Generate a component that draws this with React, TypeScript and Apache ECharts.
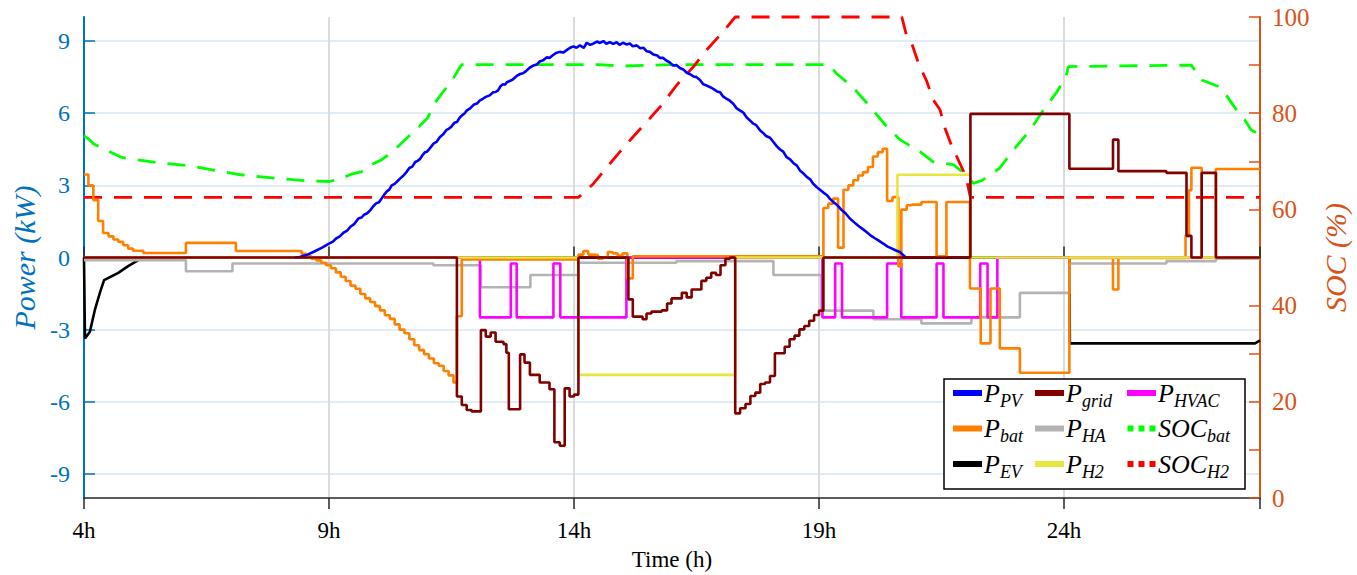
import React, { useEffect, useRef } from 'react';
import * as echarts from 'echarts';

// ---- ticks ----
const powerTicks = [-9, -6, -3, 0, 3, 6, 9];
const socLabels = [0, 20, 40, 60, 80, 100];
const timeLabels = [4, 9, 14, 19, 24];

// ---- series data: [hour, value] ----
const pPV: [number, number][] = [
  [8.3, 0], [8.4, 0.02], [8.54, 0.1], [8.7, 0.25], [8.85, 0.4], [9.0, 0.58], [9.08, 0.66], [9.15, 0.8], [9.22, 0.88],
  [9.29, 1.02], [9.37, 1.12], [9.45, 1.3], [9.52, 1.4], [9.6, 1.62], [9.66, 1.66], [9.72, 1.78], [9.78, 1.84],
  [9.84, 1.96], [9.9, 2.12], [9.96, 2.25], [10.02, 2.3], [10.08, 2.47], [10.13, 2.62], [10.18, 2.75], [10.23, 2.82],
  [10.28, 3.0], [10.34, 3.06], [10.4, 3.18], [10.46, 3.3], [10.52, 3.41], [10.58, 3.55], [10.64, 3.72], [10.7, 3.78],
  [10.76, 3.97], [10.81, 4.02], [10.86, 4.1], [10.91, 4.26], [10.96, 4.38], [11.0, 4.4], [11.05, 4.52], [11.09, 4.62],
  [11.13, 4.73], [11.2, 4.82], [11.26, 5.0], [11.33, 5.12], [11.4, 5.31], [11.45, 5.36], [11.5, 5.45], [11.56, 5.6],
  [11.61, 5.63], [11.67, 5.82], [11.72, 5.92], [11.77, 6.0], [11.81, 6.11], [11.88, 6.2], [11.95, 6.35], [12.02, 6.4],
  [12.08, 6.53], [12.14, 6.6], [12.2, 6.68], [12.28, 6.74], [12.35, 6.87], [12.4, 6.88], [12.45, 6.95], [12.5, 7.12],
  [12.55, 7.2], [12.59, 7.18], [12.63, 7.29], [12.69, 7.34], [12.75, 7.4], [12.83, 7.55], [12.9, 7.63], [12.96, 7.66],
  [13.02, 7.75], [13.1, 7.9], [13.17, 7.98], [13.24, 8.02], [13.3, 8.15], [13.37, 8.2], [13.44, 8.32], [13.5, 8.3],
  [13.56, 8.4], [13.63, 8.5], [13.71, 8.55], [13.78, 8.52], [13.85, 8.62], [13.92, 8.72], [13.99, 8.78], [14.05, 8.72],
  [14.12, 8.82], [14.2, 8.72], [14.26, 8.93], [14.33, 8.84], [14.4, 8.9], [14.47, 8.98], [14.53, 8.92], [14.6, 9.0],
  [14.66, 8.88], [14.73, 8.96], [14.8, 8.88], [14.87, 8.95], [14.93, 8.84], [15.0, 8.93], [15.07, 8.86], [15.14, 8.9],
  [15.2, 8.78], [15.28, 8.82], [15.35, 8.7], [15.42, 8.72], [15.48, 8.58], [15.55, 8.55], [15.62, 8.44], [15.7, 8.4],
  [15.75, 8.3], [15.82, 8.3], [15.89, 8.18], [15.95, 8.12], [16.02, 7.98], [16.09, 8.0], [16.16, 7.88], [16.23, 7.82],
  [16.3, 7.68], [16.37, 7.62], [16.44, 7.53], [16.5, 7.5], [16.57, 7.38], [16.64, 7.2], [16.71, 7.15], [16.78, 7.08],
  [16.85, 7.0], [16.92, 6.9], [16.98, 6.87], [17.04, 6.7], [17.1, 6.62], [17.18, 6.52], [17.25, 6.39], [17.32, 6.2],
  [17.4, 6.1], [17.46, 6.02], [17.52, 5.83], [17.58, 5.72], [17.65, 5.58], [17.72, 5.5], [17.8, 5.28], [17.86, 5.18],
  [17.92, 5.05], [18.0, 4.98], [18.07, 4.8], [18.14, 4.62], [18.2, 4.5], [18.27, 4.4], [18.34, 4.17], [18.41, 4.08],
  [18.48, 3.92], [18.55, 3.82], [18.61, 3.62], [18.68, 3.5], [18.75, 3.35], [18.82, 3.25], [18.88, 3.07],
  [18.95, 2.93], [19.02, 2.82], [19.09, 2.7], [19.16, 2.6], [19.22, 2.45], [19.29, 2.31], [19.37, 2.18],
  [19.45, 2.0], [19.54, 1.84], [19.63, 1.62], [19.72, 1.46], [19.8, 1.32], [19.88, 1.2], [19.97, 1.06],
  [20.05, 0.92], [20.14, 0.8], [20.22, 0.7], [20.31, 0.58], [20.4, 0.45], [20.48, 0.38], [20.56, 0.3],
  [20.65, 0.23], [20.72, 0.1], [20.76, 0.02], [20.8, 0],
];

const pBat: [number, number][] = [
  [4.0, 3.45], [4.09, 3.0], [4.19, 2.38], [4.29, 1.52], [4.39, 1.02], [4.5, 0.88], [4.6, 0.75], [4.7, 0.65],
  [4.8, 0.51], [4.9, 0.37], [5.0, 0.28], [5.21, 0.19], [6.08, 0.61], [7.1, 0.27], [8.44, 0.15], [8.54, 0.05],
  [8.64, -0.05], [8.74, -0.12], [8.84, -0.22], [8.94, -0.32], [9.04, -0.45], [9.14, -0.62], [9.24, -0.8],
  [9.34, -0.98], [9.44, -1.17], [9.54, -1.3], [9.64, -1.52], [9.74, -1.7], [9.84, -1.85], [9.94, -2.02],
  [10.04, -2.2], [10.14, -2.4], [10.24, -2.55], [10.34, -2.78], [10.44, -3.0], [10.54, -3.15], [10.64, -3.4],
  [10.74, -3.65], [10.84, -3.85], [10.94, -4.02], [11.04, -4.2], [11.14, -4.4], [11.24, -4.5], [11.34, -4.72],
  [11.44, -4.9], [11.54, -5.2], [11.61, -2.44], [11.71, -0.08], [14.09, 0.12], [14.19, 0.27], [14.29, 0.12],
  [14.39, 0.1], [14.49, -0.05], [14.59, 0.0], [14.69, 0.23], [14.79, 0.17], [14.89, 0.08], [14.99, 0.17],
  [15.09, -0.87], [15.2, 0.05], [19.09, 2.06], [19.19, 2.24], [19.29, 2.45], [19.39, 0.41], [19.5, 2.82],
  [19.6, 3.0], [19.7, 3.21], [19.8, 3.41], [19.9, 3.55], [20.0, 3.76], [20.1, 4.2], [20.2, 4.38], [20.3, 4.52],
  [20.39, 2.35], [20.5, 2.51], [20.62, -0.37], [20.68, 1.99], [20.79, 2.17], [20.89, 2.2], [21.09, 2.31],
  [21.4, 0.05], [21.6, 2.31], [22.08, -1.29], [22.3, -3.57], [22.5, -1.29], [22.69, -3.78], [23.1, -4.79],
  [24.11, -0.02], [25.0, -1.33], [25.11, -0.02], [26.48, 0.9], [26.55, 2.8], [26.6, 3.73], [26.81, 0], [27.1, 3.68],
  [28, 3.68],
];

const pEV: [number, number][] = [
  [4.0, 0], [4.02, -3.37], [4.12, -3.09], [4.22, -2.19], [4.33, -1.43], [4.41, -0.94], [4.7, -0.64],
  [4.9, -0.36], [5.11, -0.11], [5.18, 0], [24.11, 0], [24.12, -3.57], [27.9, -3.57], [28, -3.45],
];

const pGrid: [number, number][] = [
  [4, 0], [11.61, -5.78], [11.71, -6.13], [11.81, -6.34], [11.91, -6.4], [12.1, -3.02], [12.2, -3.29],
  [12.3, -3.12], [12.4, -3.5], [12.56, -3.6], [12.62, -3.96], [12.67, -6.31], [12.9, -4.03], [12.99, -4.37],
  [13.1, -4.88], [13.3, -5.2], [13.5, -5.48], [13.6, -7.68], [13.71, -7.83], [13.81, -5.44], [13.91, -5.78],
  [14.0, -5.7], [14.09, 0], [15.11, -1.74], [15.2, -2.46], [15.4, -2.57], [15.48, -2.33], [15.58, -2.25],
  [15.79, -2.2], [15.9, -1.91], [15.99, -1.7], [16.2, -1.47], [16.3, -1.66], [16.4, -1.33], [16.6, -0.97],
  [16.7, -0.84], [16.8, -0.64], [16.9, -0.73], [16.99, -0.32], [17.09, -0.05], [17.18, 0], [17.29, -6.48],
  [17.39, -6.27], [17.5, -6.09], [17.6, -5.76], [17.7, -5.62], [17.8, -5.26], [17.9, -5.2], [18.0, -4.93],
  [18.1, -3.98], [18.3, -3.71], [18.4, -3.4], [18.5, -3.25], [18.6, -2.99], [18.7, -2.85], [18.8, -2.63],
  [18.9, -2.39], [19.0, -2.21], [19.09, 0], [22.09, 5.97], [24.11, 3.69], [25.0, 4.9], [25.11, 3.59],
  [26.09, 3.52], [26.5, 0.9], [26.6, 0], [26.81, 3.52], [27.1, 0], [28, 0],
];

const pHA: [number, number][] = [
  [4, -0.11], [6.08, -0.57], [7.03, -0.25], [11.13, -0.32], [12.1, -1.24], [13.11, -0.73], [14.09, -0.22],
  [16.09, -0.15], [18.07, -0.73], [19.05, -2.21], [20.11, -2.57], [21.09, -2.74], [22.11, -2.49],
  [23.1, -1.47], [24.11, -0.25], [26.09, -0.15], [27.1, -0.05], [28, -0.05],
];

const pH2: [number, number][] = [
  [4, 0], [14.09, -4.88], [17.29, 0], [20.6, 3.44], [22.09, 0], [28, 0],
];

const pHVAC: [number, number][] = [
  [4, 0], [12.08, -2.49], [12.71, -0.25], [12.83, -2.49], [13.58, -0.25], [13.72, -2.49], [15.07, 0],
  [19.07, -2.49], [19.33, -0.25], [19.47, -2.49], [20.39, -0.25], [20.68, -2.49], [21.4, -0.25],
  [21.54, -2.49], [22.29, -0.25], [22.44, -2.49], [22.64, 0], [28, 0],
];

const socBat: [number, number][] = [
  [4.0, 75.3], [4.1, 74.6], [4.2, 73.6], [4.4, 72.6], [4.77, 70.8], [5.5, 69.7], [6.2, 69.0], [6.8, 67.9],
  [7.2, 67.2], [7.9, 66.5], [8.6, 65.9], [9.0, 65.8], [9.21, 66.3], [9.48, 67.4], [9.69, 67.9], [9.86, 69.3],
  [10.07, 70.3], [10.3, 72.0], [10.44, 73.4], [10.64, 75.3], [10.81, 76.9], [11.01, 79.0], [11.18, 82.4],
  [11.31, 84.2], [11.52, 86.9], [11.62, 88.7], [11.71, 90.1], [14.5, 90.1], [15.0, 89.8], [16.0, 90.1],
  [19.2, 90.1], [19.35, 88.3], [19.69, 85.4], [20.04, 81.4], [20.35, 77.6], [20.65, 74.5], [21.06, 72.0],
  [21.33, 69.9], [21.74, 69.3], [21.98, 67.4], [22.15, 65.4], [22.32, 66.0], [22.69, 68.6], [22.97, 72.4],
  [23.31, 76.5], [23.58, 80.7], [23.86, 84.5], [24.04, 87.6], [24.09, 89.7], [26.6, 90.0], [26.81, 86.9],
  [27.14, 85.6], [27.28, 84.2], [27.49, 81.1], [27.69, 78.6], [27.82, 76.5], [28, 75.5],
];

const socH2: [number, number][] = [
  [4, 62.5], [14.09, 62.5], [14.26, 64.0], [14.4, 65.4], [14.57, 67.5], [14.74, 69.6], [14.94, 72.0],
  [15.18, 74.8], [15.52, 78.6], [15.79, 81.7], [16.1, 85.9], [16.44, 89.7], [16.71, 93.2], [17.05, 97.0],
  [17.29, 100], [20.69, 100], [20.79, 96.0], [20.89, 94.6], [21.03, 90.4], [21.2, 86.6], [21.33, 82.8],
  [21.47, 80.7], [21.57, 76.9], [21.71, 73.1], [21.81, 71.0], [21.95, 67.9], [22.02, 65.8], [22.09, 62.5],
  [28, 62.5],
];

const legendParts: Record<string, [string, string]> = {
  P_PV: ['P', 'PV'], P_bat: ['P', 'bat'], P_EV: ['P', 'EV'],
  P_grid: ['P', 'grid'], P_HA: ['P', 'HA'], P_H2: ['P', 'H2'],
  P_HVAC: ['P', 'HVAC'], SOC_bat: ['SOC', 'bat'], SOC_H2: ['SOC', 'H2'],
};

const SERIF = 'Liberation Serif';
const BLUE_AX = '#0072BD';
const ORANGE_AX = '#D95319';
const DOTS = 'path://M0,0h6v6h-6zM11,0h6v6h-6zM22,0h6v6h-6z';

export default function App() {
  const ref = useRef<HTMLDivElement>(null);
  useEffect(() => {
    if (!ref.current) return;
    const chart = echarts.init(ref.current, null, { renderer: 'svg' });

    const stepLine = (name: string, data: [number, number][], color: string, z: number, step: boolean) => ({
      name, type: 'line', data, step: step ? 'end' : false, symbol: 'none', z,
      lineStyle: { color, width: 2.6 }, itemStyle: { color }, emphasis: { disabled: true },
    });
    const socLine = (name: string, data: [number, number][], color: string, z: number) => ({
      name, type: 'line', yAxisIndex: 1, data, symbol: 'none', z, clip: false,
      lineStyle: { color, width: 2.8, type: [18, 12] }, itemStyle: { color }, emphasis: { disabled: true },
    });

    const legendText = {
      color: '#000',
      fontFamily: SERIF,
      rich: {
        p: { fontSize: 26, fontStyle: 'italic', fontFamily: SERIF, lineHeight: 33, color: '#000', padding: [0, 0, 0, -3] },
        s: { fontSize: 18, fontStyle: 'italic', fontFamily: SERIF, lineHeight: 33, verticalAlign: 'bottom', color: '#000' },
      },
    };
    const fmt = (name: string) => {
      const p = legendParts[name];
      return `{p|${p[0]}}{s|${p[1]}}`;
    };
    const mkLegend = (left: number, data: any[]) => ({
      orient: 'vertical', left, top: 380, padding: 0, itemGap: 6, itemWidth: 29, itemHeight: 6,
      icon: 'rect', selectedMode: false, formatter: fmt, textStyle: legendText, data, z: 6,
    });

    chart.setOption({
      animation: false,
      backgroundColor: '#fff',
      grid: { left: 84, right: 97, top: 17, bottom: 77, containLabel: false, outerBoundsMode: 'none' },
      xAxis: [
        {
          type: 'value', min: 4, max: 28, interval: 5, position: 'bottom',
          axisLine: { show: true, lineStyle: { color: '#262626', width: 1.5 } },
          axisTick: { show: true, inside: true, length: 11, lineStyle: { color: '#262626', width: 1.5 } },
          axisLabel: {
            customValues: timeLabels, formatter: '{value}h', color: '#000', fontFamily: SERIF, fontSize: 23, margin: 21,
          },
          splitLine: { show: true, lineStyle: { color: '#dcdcdc', width: 2 } },
          name: 'Time (h)', nameLocation: 'middle', nameGap: 50,
          nameTextStyle: { color: '#000', fontFamily: SERIF, fontSize: 23 },
        },
        {
          type: 'value', min: 4, max: 28, interval: 5, position: 'top',
          axisLine: { show: true, lineStyle: { color: '#262626', width: 1.5 } },
          axisTick: { show: true, inside: true, length: 11, lineStyle: { color: '#262626', width: 1.5 } },
          axisLabel: { show: false }, splitLine: { show: false },
        },
      ],
      yAxis: [
        {
          type: 'value', min: -10, max: 10, position: 'left',
          axisLine: { show: true, lineStyle: { color: BLUE_AX, width: 2 } },
          axisTick: { show: true, inside: true, length: 11, customValues: powerTicks, lineStyle: { color: BLUE_AX, width: 1.5 } },
          axisLabel: { customValues: powerTicks, color: BLUE_AX, fontFamily: SERIF, fontSize: 24, margin: 14 },
          splitLine: { show: true, lineStyle: { color: '#d6e6f3', width: 1.5 } },
          name: 'Power (kW)', nameLocation: 'middle', nameGap: 38, nameRotate: 90,
          nameTextStyle: { color: BLUE_AX, fontFamily: SERIF, fontSize: 30, fontStyle: 'italic' },
        },
        {
          type: 'value', min: 0, max: 100, interval: 10, position: 'right',
          axisLine: { show: true, lineStyle: { color: ORANGE_AX, width: 2 } },
          axisTick: { show: true, inside: true, length: 11, lineStyle: { color: ORANGE_AX, width: 1.5 } },
          axisLabel: { customValues: socLabels, color: ORANGE_AX, fontFamily: SERIF, fontSize: 25, margin: 12 },
          splitLine: { show: false },
          name: 'SOC (%)', nameLocation: 'middle', nameGap: 55, nameRotate: 90,
          nameTextStyle: { color: ORANGE_AX, fontFamily: SERIF, fontSize: 30, fontStyle: 'italic' },
        },
      ],
      legend: [
        mkLegend(953, ['P_PV', 'P_bat', 'P_EV']),
        mkLegend(1035, ['P_grid', 'P_HA', 'P_H2']),
        mkLegend(1127, [
          { name: 'P_HVAC', icon: 'rect' },
          { name: 'SOC_bat', icon: DOTS },
          { name: 'SOC_H2', icon: DOTS },
        ]),
      ],
      graphic: [
        {
          type: 'rect', z: 5, silent: true,
          shape: { x: 944, y: 379, width: 301, height: 110 },
          style: { fill: '#fff', stroke: '#000', lineWidth: 1.5 },
        },
      ],
      series: [
        stepLine('P_PV', pPV, '#0000ff', 6, false),
        stepLine('P_bat', pBat, '#ff8000', 4.5, true),
        stepLine('P_EV', pEV, '#000000', 3, false),
        stepLine('P_grid', pGrid, '#800000', 9, true),
        stepLine('P_HA', pHA, '#b3b3b3', 3, true),
        stepLine('P_H2', pH2, '#e6e640', 5, true),
        stepLine('P_HVAC', pHVAC, '#ff00ff', 4, true),
        socLine('SOC_bat', socBat, '#00ff00', 2),
        socLine('SOC_H2', socH2, '#ff0000', 2),
      ],
    });
    return () => chart.dispose();
  }, []);
  return <div ref={ref} style={{ position: 'fixed', left: 0, top: 0, width: 1357, height: 575 }} />;
}
